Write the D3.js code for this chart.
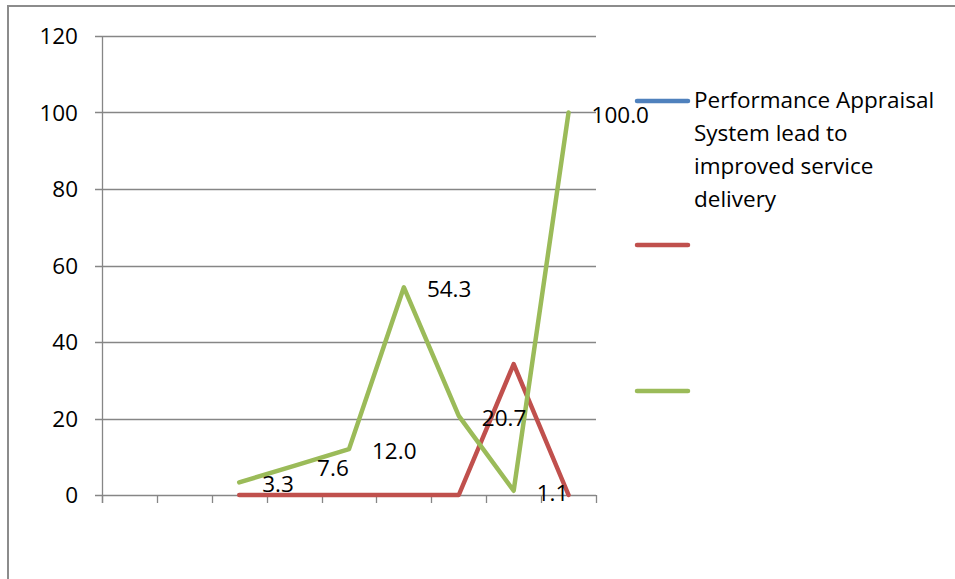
<!DOCTYPE html>
<html>
<head>
<meta charset="utf-8">
<script src="https://cdn.jsdelivr.net/npm/d3@7/dist/d3.min.js"></script>
<style>
  body { margin: 0; background: #fff; }
  svg { display: block; }
  text { font-family: "Open Sans", Lato, sans-serif; fill: #000; }
</style>
</head>
<body>
<svg id="chart" width="955" height="579"></svg>
<script>
const categories = ["1", "2", "3", "4", "5", "6", "7", "8", "9"];
const seriesNames = ["Performance Appraisal System lead to improved service delivery", "", ""];
const blueValues = [null, null, null, null, null, null, null, null, null];
const redValues = [null, null, 0, 0, 0, 0, 0, 34.2, 0];
const greenValues = [null, null, 3.3, 7.6, 12.0, 54.3, 20.7, 1.1, 100.0];
const yTicks = [0, 20, 40, 60, 80, 100, 120];
const legendLines = [["Performance Appraisal", "System lead to", "improved service", "delivery"], [], []];
const colors = ["#4F81BD", "#C0504D", "#9BBB59"];

const series = [blueValues, redValues, greenValues];
const svg = d3.select("#chart");
const FS = "22.5px";

// outer frame (top and left edges visible)
svg.append("path").attr("d", "M8,579 L8,6 L955,6").attr("fill", "none")
  .attr("stroke", "#8c8c8c").attr("stroke-width", 2);

const x = d3.scaleBand().domain(categories).range([102, 596]).padding(0);
const y = d3.scaleLinear().domain([0, 120]).range([495, 36]);
const cx = c => x(c) + x.bandwidth() / 2;

// gridlines + y ticks
const g = svg.append("g");
g.selectAll("line.grid").data(yTicks).join("line")
  .attr("x1", 95).attr("x2", 596)
  .attr("y1", d => Math.round(y(d)) + 0.5).attr("y2", d => Math.round(y(d)) + 0.5)
  .attr("stroke", "#868686").attr("stroke-width", 1.3);
g.selectAll("text.ylab").data(yTicks).join("text")
  .attr("x", 78).attr("y", d => y(d))
  .attr("text-anchor", "end").attr("dy", "0.36em")
  .style("font-size", FS).text(d => d);

// y axis line
g.append("line").attr("x1", 102.5).attr("x2", 102.5).attr("y1", y(120)).attr("y2", 503)
  .attr("stroke", "#868686").attr("stroke-width", 1.3);

// x tick marks at category boundaries
const bounds = categories.map(c => x(c)).concat([x.range()[1]]);
g.selectAll("line.xt").data(bounds).join("line")
  .attr("x1", d => Math.round(d) + 0.5).attr("x2", d => Math.round(d) + 0.5)
  .attr("y1", y(0)).attr("y2", y(0) + 8)
  .attr("stroke", "#868686").attr("stroke-width", 1.3);

// lines
const line = d3.line()
  .defined(d => d.v !== null)
  .x(d => cx(d.c)).y(d => y(d.v));
series.forEach((vals, i) => {
  const pts = categories.map((c, j) => ({ c, v: vals[j] }));
  svg.append("path").datum(pts).attr("d", line)
    .attr("fill", "none").attr("stroke", colors[i]).attr("stroke-width", 4.5)
    .attr("stroke-linejoin", "round").attr("stroke-linecap", "round");
});

// data labels for green series
const gpts = categories.map((c, j) => ({ c, v: greenValues[j] })).filter(d => d.v !== null);
svg.selectAll("text.dl").data(gpts).join("text")
  .attr("x", d => cx(d.c) + 23).attr("y", d => y(d.v) + 2)
  .attr("dy", "0.36em").style("font-size", FS)
  .text(d => d.v.toFixed(1));

// legend
const legendY = [101, 245, 391];
series.forEach((vals, i) => {
  svg.append("line").attr("x1", 637).attr("x2", 688)
    .attr("y1", legendY[i]).attr("y2", legendY[i])
    .attr("stroke", colors[i]).attr("stroke-width", 4.5).attr("stroke-linecap", "round");
  const t = svg.append("text").attr("x", 694).attr("y", legendY[i]).style("font-size", FS);
  legendLines[i].forEach((ln, k) => {
    t.append("tspan").attr("x", 694).attr("y", legendY[i] + 7 + k * 33).text(ln);
  });
});
</script>
</body>
</html>
